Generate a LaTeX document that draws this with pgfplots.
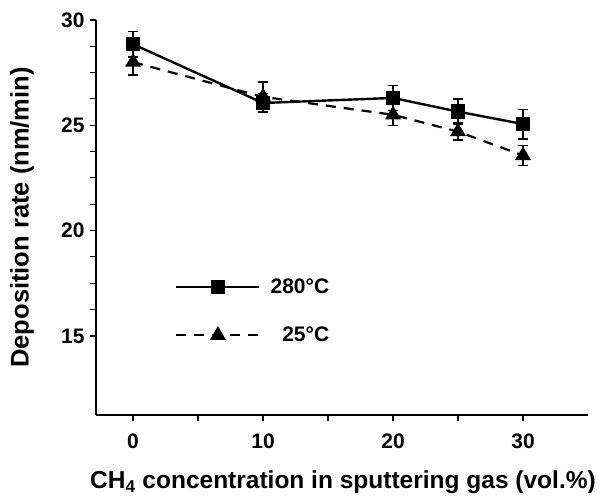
\documentclass[border=0pt]{standalone}
\usepackage{fontspec}
\setmainfont{Liberation Sans}
\usepackage{pgfplots}
\pgfplotsset{compat=1.18}
\begin{document}
\begin{tikzpicture}
\begin{axis}[
  at={(0,0)}, anchor=south west,
  scale only axis, width=492pt, height=395pt,
  xmin=-2.85, xmax=35, ymin=11.25, ymax=30,
  axis lines=left, axis line style={line width=1.6pt, -},
  xtick={0,10,20,30}, minor xtick={5,15,25},
  ytick={15,20,25,30}, minor y tick num=3,
  tick align=outside, tick pos=left,
  major tick length=6pt, minor tick length=6pt,
  every tick/.style={line width=1.4pt, black},
  minor y tick style={line width=1pt},
  tick label style={font=\fontsize{21}{24}\selectfont\bfseries},
  xticklabel style={yshift=-9pt},
  yticklabel style={xshift=-2pt},
  /pgf/number format/assume math mode=true,
  xlabel={CH\textsubscript{4} concentration in sputtering gas (vol.\%)},
  ylabel={Deposition rate (nm/min)},
  xlabel style={font=\fontsize{24.5}{28}\selectfont\bfseries, at={(axis description cs:0.502,-0.187)}, anchor=base},
  ylabel style={font=\fontsize{25.5}{28}\selectfont\bfseries, at={(axis description cs:-0.137,0.5)}, anchor=base},
  legend style={draw=none, fill=none, at={(axis description cs:0.1606,0.35)}, anchor=north west,
    inner sep=0pt, row sep=28pt, column sep=8pt,
    font=\fontsize{21}{24}\selectfont\bfseries},
  legend cell align=right,
  legend image code/.code={\draw[mark repeat=2,mark phase=2,#1] plot coordinates {(0pt,0pt)(41.5pt,0pt)(83pt,0pt)};},
  error bars/error bar style={line width=1.5pt, solid},
  error bars/error mark options={rotate=90, mark size=5pt, line width=1.5pt, solid},
]
\addplot[black, line width=2.4pt, mark=square*, mark size=6pt, mark options={solid},
  error bars/.cd, y dir=both, y explicit]
  coordinates {
  (0,28.85) +- (0,0.6)
  (10,26.06) +- (0,0.45)
  (20,26.3) +- (0,0.6)
  (25,25.65) +- (0,0.6)
  (30,25.06) +- (0,0.7)
  };
\addlegendentry{280°C}
\addplot[black, line width=2.2pt, dash pattern=on 10pt off 8pt, mark=triangle*, mark size=7pt, mark options={solid},
  error bars/.cd, y dir=both, y explicit]
  coordinates {
  (0,28.0) +- (0,0.6)
  (10,26.35) +- (0,0.7)
  (20,25.5) +- (0,0.5)
  (25,24.7) +- (0,0.4)
  (30,23.57) +- (0,0.47)
  };
\addlegendentry{25°C}
\end{axis}
\pgfresetboundingbox
\path[use as bounding box] (-96pt,-82pt) rectangle (507pt,415pt);
\end{tikzpicture}
\end{document}
